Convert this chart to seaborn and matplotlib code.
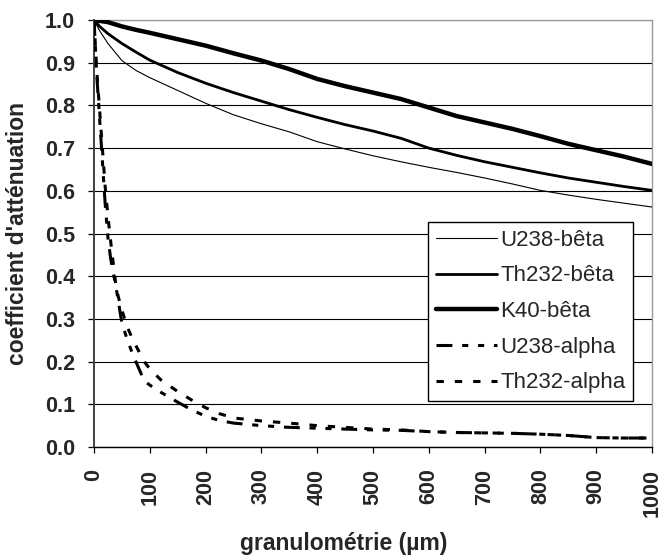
import matplotlib
matplotlib.use("Agg")
import matplotlib.pyplot as plt
import seaborn as sns
import numpy as np

# granulometry grid (µm) for the beta curves
x_beta = [0, 10, 25, 50, 75, 100, 150, 200, 250, 300, 350, 400, 450, 500,
          550, 600, 650, 700, 750, 800, 850, 900, 950, 1000]
u238_beta = [1.0, 0.975, 0.945, 0.905, 0.882, 0.865, 0.835, 0.805, 0.778, 0.757,
             0.738, 0.715, 0.698, 0.682, 0.668, 0.655, 0.643, 0.63, 0.616, 0.601,
             0.59, 0.58, 0.571, 0.562]
th232_beta = [1.0, 0.985, 0.968, 0.945, 0.925, 0.906, 0.877, 0.852, 0.83, 0.81,
              0.79, 0.772, 0.755, 0.74, 0.723, 0.70, 0.683, 0.668, 0.655, 0.642,
              0.63, 0.62, 0.61, 0.601]
k40_beta = [1.0, 0.998, 0.995, 0.985, 0.977, 0.97, 0.955, 0.94, 0.922, 0.905,
            0.885, 0.862, 0.845, 0.83, 0.815, 0.795, 0.775, 0.76, 0.745, 0.728,
            0.71, 0.695, 0.68, 0.663]

# granulometry grid (µm) for the alpha curves
x_alpha = [0, 5, 10, 15, 20, 25, 30, 40, 50, 60, 70, 80, 90, 100, 120, 150, 175,
           200, 225, 250, 300, 350, 400, 450, 500, 550, 600, 650, 700, 750, 800,
           850, 900, 950, 1000]
u238_alpha = [1.0, 0.87, 0.77, 0.67, 0.57, 0.49, 0.44, 0.37, 0.29, 0.25, 0.215,
              0.185, 0.155, 0.145, 0.128, 0.105, 0.087, 0.072, 0.062, 0.056, 0.05,
              0.046, 0.044, 0.042, 0.04, 0.039, 0.036, 0.034, 0.033, 0.032, 0.03,
              0.027, 0.022, 0.021, 0.021]
th232_alpha = [1.0, 0.88, 0.79, 0.70, 0.61, 0.54, 0.48, 0.37, 0.32, 0.28, 0.25,
               0.225, 0.20, 0.183, 0.157, 0.13, 0.11, 0.092, 0.078, 0.068, 0.061,
               0.056, 0.05, 0.046, 0.042, 0.04, 0.036, 0.034, 0.033, 0.032, 0.03,
               0.027, 0.022, 0.021, 0.021]

x_ticks = list(range(0, 1001, 100))
y_ticks = [round(0.1 * i, 1) for i in range(11)]

sns.set_style("white")
plt.rcParams["font.family"] = ["Liberation Sans", "DejaVu Sans"]

fig = plt.figure(figsize=(6.61, 5.58), dpi=100)
ax = fig.add_axes([94 / 661, 1 - 447 / 558, 558 / 661, 427 / 558])

series = [
    (x_beta, u238_beta, "U238-bêta", 0.8, "-"),
    (x_beta, th232_beta, "Th232-bêta", 2.0, "-"),
    (x_beta, k40_beta, "K40-bêta", 3.2, "-"),
    (x_alpha, u238_alpha, "U238-alpha", 2.2, (0, (5.2, 3.2, 2.0, 3.2, 2.0, 3.2))),
    (x_alpha, th232_alpha, "Th232-alpha", 2.2, (0, (2.4, 3.6))),
]
for xs, ys, name, lw, ls in series:
    sns.lineplot(x=xs, y=ys, ax=ax, color="black", linewidth=lw,
                 linestyle=ls, label=name, zorder=3)

ax.set_xlim(0, 1000)
ax.set_ylim(0, 1.0)
ax.set_xticks(x_ticks)
ax.set_yticks(y_ticks)
ax.set_xticklabels([str(v) for v in x_ticks], rotation=90, fontsize=15.5,
                   fontweight="bold")
ax.set_yticklabels([f"{v:.1f}" for v in y_ticks], fontsize=15.5,
                   fontweight="bold")

ax.yaxis.grid(True, color="black", linewidth=0.8)
ax.xaxis.grid(False)
ax.set_axisbelow(True)

ax.tick_params(axis="both", direction="out", length=4.5, width=0.9,
               color="black", left=True, bottom=True)
ax.tick_params(axis="x", pad=11)
ax.tick_params(axis="y", pad=9)

for side in ("top", "right"):
    ax.spines[side].set_color("#9a9a9a")
    ax.spines[side].set_linewidth(1.0)
ax.spines["left"].set_color("#404040")
ax.spines["left"].set_linewidth(1.4)
ax.spines["bottom"].set_color("black")
ax.spines["bottom"].set_linewidth(1.0)

ax.set_xlabel("granulométrie (µm)", fontsize=16.5, fontweight="bold")
ax.set_ylabel("coefficient d'atténuation", fontsize=16.5, fontweight="bold")
ax.xaxis.set_label_coords(0.448, -0.198)
ax.yaxis.set_label_coords(-0.116, 0.5)

leg = ax.legend(loc="upper left", bbox_to_anchor=(0.5986, 0.527),
                frameon=True, fancybox=False, edgecolor="black", framealpha=1,
                fontsize=16, handlelength=2.75, handletextpad=0.15,
                labelspacing=0.66, borderpad=0.35, borderaxespad=0)
leg.get_frame().set_linewidth(1.0)

fig.savefig("out.png", dpi=100, facecolor="white")
